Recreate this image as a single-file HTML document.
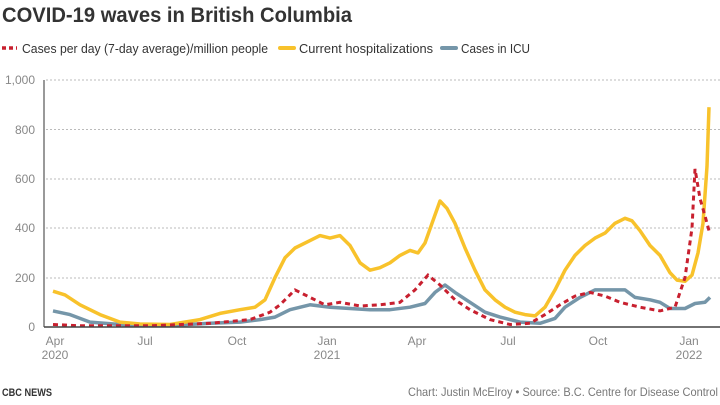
<!DOCTYPE html><html><head><style>
body{margin:0;width:720px;height:400px;background:#fff;font-family:"Liberation Sans",sans-serif;overflow:hidden}
</style></head><body>
<svg width="720" height="400" xmlns="http://www.w3.org/2000/svg" font-family="Liberation Sans, sans-serif">
<text x="2" y="22" font-size="21" font-weight="bold" fill="#333" textLength="350" lengthAdjust="spacingAndGlyphs">COVID-19 waves in British Columbia</text>
<line x1="2" y1="48" x2="17" y2="48" stroke="#c8202f" stroke-width="3.5" stroke-dasharray="4,3"/>
<text x="22" y="53" font-size="12.5" fill="#333" textLength="246" lengthAdjust="spacingAndGlyphs">Cases per day (7-day average)/million people</text>
<line x1="280" y1="48" x2="294" y2="48" stroke="#f8c22b" stroke-width="4" stroke-linecap="round"/>
<text x="299" y="53" font-size="12.5" fill="#333" textLength="134" lengthAdjust="spacingAndGlyphs">Current hospitalizations</text>
<line x1="442" y1="48" x2="456" y2="48" stroke="#7596a9" stroke-width="4" stroke-linecap="round"/>
<text x="461" y="53" font-size="12.5" fill="#333" textLength="69" lengthAdjust="spacingAndGlyphs">Cases in ICU</text>
<g stroke="#bbb" stroke-dasharray="2,2" stroke-width="1">
<line x1="46" y1="80" x2="720" y2="80"/><line x1="46" y1="129.5" x2="720" y2="129.5"/><line x1="46" y1="179" x2="720" y2="179"/><line x1="46" y1="228" x2="720" y2="228"/><line x1="46" y1="278" x2="720" y2="278"/>
</g>
<line x1="44" y1="80" x2="44" y2="327" stroke="#333"/>
<g font-size="12" fill="#888" text-anchor="end">
<text x="35" y="84">1,000</text><text x="35" y="134">800</text><text x="35" y="183">600</text><text x="35" y="232">400</text><text x="35" y="282">200</text><text x="35" y="331">0</text>
</g>
<g font-size="12" fill="#888" text-anchor="middle">
<text x="55" y="345">Apr</text><text x="55" y="359">2020</text>
<text x="145" y="345">Jul</text><text x="237" y="345">Oct</text>
<text x="327" y="345">Jan</text><text x="327" y="359">2021</text>
<text x="417" y="345">Apr</text><text x="508" y="345">Jul</text><text x="598" y="345">Oct</text>
<text x="689" y="345">Jan</text><text x="689" y="359">2022</text>
</g>
<polyline id="icu" fill="none" stroke="#7596a9" stroke-width="3.5" stroke-linejoin="round"/>
<polyline id="hos" fill="none" stroke="#f8c22b" stroke-width="3.5" stroke-linejoin="round"/>
<polyline id="cas" fill="none" stroke="#c8202f" stroke-width="3" stroke-dasharray="5,4"/>
<line x1="44" y1="327" x2="720" y2="327" stroke="#444" stroke-width="1.5"/>
<text x="2" y="396" font-size="11" font-weight="bold" fill="#333" textLength="50" lengthAdjust="spacingAndGlyphs">CBC NEWS</text>
<text x="718" y="396" font-size="12" fill="#777" text-anchor="end" textLength="310" lengthAdjust="spacingAndGlyphs">Chart: Justin McElroy • Source: B.C. Centre for Disease Control</text>
</svg>
<script>
function P(id,d){var s=[];for(var i=0;i<d.length;i+=2)s.push(d[i]+","+(327-d[i+1]*0.247).toFixed(1));document.getElementById(id).setAttribute("points",s.join(" "));}
P("hos",[53,145,65,130,80,90,100,50,120,20,140,12,170,10,200,30,220,55,240,70,255,80,265,110,275,200,285,280,295,320,310,350,320,370,330,360,340,370,350,330,360,260,370,230,380,240,390,260,400,290,410,310,418,300,425,340,432,420,440,510,447,480,455,420,465,320,475,230,485,150,495,110,505,80,515,60,525,50,535,45,545,80,555,150,565,230,575,290,585,330,595,360,605,380,615,420,625,440,632,430,640,390,650,330,660,290,670,220,677,190,685,185,692,210,698,300,703,420,707,650,709,890]);
P("icu",[53,65,70,50,90,20,120,10,150,5,180,8,210,15,240,20,260,30,275,40,290,70,310,90,330,80,350,75,370,70,390,70,410,80,425,95,435,140,445,170,455,140,470,100,485,60,500,40,520,20,540,15,555,35,565,80,580,120,595,150,610,150,625,150,635,120,650,110,660,100,670,75,685,75,695,95,705,100,710,120]);
P("cas",[53,10,80,5,150,5,210,15,250,30,270,60,280,90,295,150,310,120,325,90,340,100,360,85,380,90,400,100,415,150,428,210,440,170,455,110,470,70,490,30,510,10,530,15,545,50,560,90,575,125,590,140,605,125,620,100,640,80,660,65,675,80,685,200,692,400,695,640,700,520,705,450,709,390]);
</script>
</body></html>
